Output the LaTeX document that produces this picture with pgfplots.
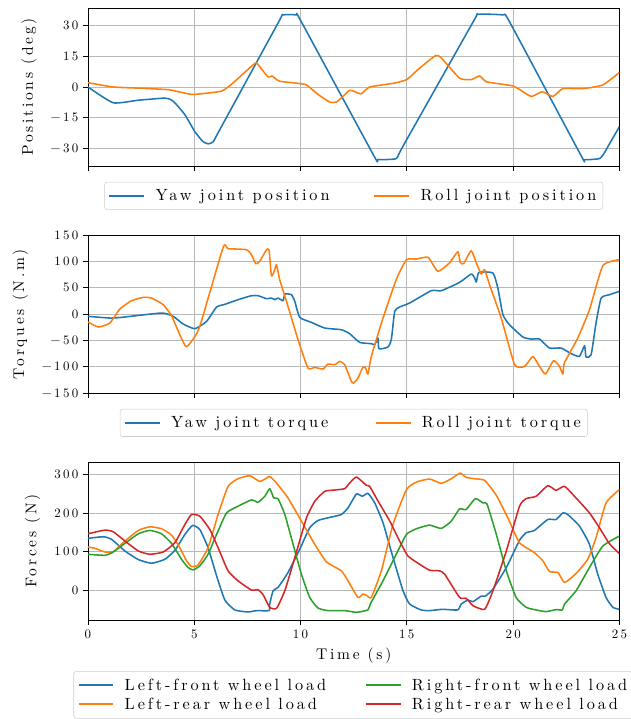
\documentclass[border=0pt]{standalone}
\usepackage{fontspec}
\setmainfont{lmroman10-regular.otf}[LetterSpace=18]
\usepackage{pgfplots}
\pgfplotsset{compat=1.18}

\definecolor{tabblue}{HTML}{1F77B4}
\definecolor{taborange}{HTML}{FF7F0E}
\definecolor{tabgreen}{HTML}{2CA02C}
\definecolor{tabred}{HTML}{D62728}

\newcommand{\rowstrut}{\rule{0pt}{9.2pt}\rule[-3pt]{0pt}{3pt}}

\pgfplotsset{
  panel/.style={
    scale only axis,
    width=412pt, height=122.5pt,
    xmin=0, xmax=25,
    xtick={0,5,10,15,20,25},
    grid=major,
    grid style={line width=0.6pt, color=black!28},
    axis line style={line width=0.6pt},
    tick align=outside, tick pos=left,
    major tick length=4pt,
    tick style={line width=0.6pt, black},
    tick label style={font=\normalsize},
    label style={font=\large},
    ylabel shift=4pt,
    legend cell align=left,
    legend style={at={(0.5,-0.1)}, anchor=north, legend columns=2,
      draw=black!20, rounded corners=2pt, font=\fontsize{12.6}{15}\selectfont,
      /tikz/every odd column/.append style={column sep=6pt},
      /tikz/every even column/.append style={column sep=25pt},
      inner xsep=3pt, inner ysep=3.5pt},
    legend image code/.code={\draw[##1, line width=1.5pt] (0pt,0pt) -- (27pt,0pt);},
    every axis plot/.append style={line width=1.2pt, line join=round, smooth, tension=0.3},
  }
}

\pgfplotstableread{
t v
0 0
1.19 -7.7
2.4 -6.4
3.62 -5.4
3.9 -6.2
4.09 -7.7
4.56 -13.5
5.03 -21.8
5.4 -26.5
5.65 -27.7
5.89 -26.7
6.2 -20.8
9.0 32.3
9.15 35.1
9.81 35.1
10.0 32.5
13.45 -33.5
13.64 -35.3
14.5 -34.9
14.8 -29.2
18.15 32.3
18.34 35.4
19.52 35.1
19.83 31.8
23.2 -33.5
23.36 -35.4
24.06 -34.9
24.3 -32
24.45 -29.2
25 -19.3
}\yawpos

\pgfplotstableread{
t v
0 2.1
1.19 0
2.5 -0.6
3.78 -1.3
4.25 -2.3
4.87 -3.6
5.34 -3.3
6.28 -2.0
6.75 1.3
7.85 11.5
8.0 10.9
8.47 4.9
8.66 5.4
8.79 4.3
9.02 2.8
9.88 1.8
10.28 1.0
10.82 -3.6
11.37 -7.3
11.69 -7.3
12.0 -4.5
12.31 -1.6
12.55 -2.3
12.86 -3.3
13.25 0
14.36 1.8
14.99 3.6
15.6 9.2
16.35 15.3
16.62 14.2
17.48 4.3
18.03 3.6
18.42 5.4
18.73 2.6
19.52 1.3
19.99 0.5
20.3 -1.2
20.85 -4.6
21.37 -2.3
21.87 -4.6
22.34 -0.8
23.28 -0.8
24.22 1.0
25.0 7.1
}\rollpos

\pgfplotstableread{
t v
0 -4.4
1.03 -7.6
1.58 -6.3
3.46 1.9
4.01 -4.4
4.48 -19
5.03 -27.9
5.58 -13.9
6.05 13.3
6.44 18.4
7.06 27.2
7.69 34.8
8.0 34.8
8.4 29.1
8.63 30.4
8.79 27.2
8.94 30.4
9.18 25.3
9.26 38
9.57 36.7
9.73 24
9.96 -6.3
10.51 -15.8
11.14 -26.6
11.92 -29.8
12.31 -37.3
12.78 -53.8
13.33 -56.3
13.49 -58.2
13.64 -45.6
13.69 -65.8
14.11 -62.7
14.27 -48.7
14.43 5
14.66 13.3
15.13 20.9
16.15 44.3
16.62 44.3
17.48 60.1
18.03 76
18.19 68.4
18.27 60.8
18.39 79
19.05 77.9
19.28 49.4
19.52 -1.3
19.83 -20.3
20.46 -43.7
20.85 -47.5
21.24 -47.5
21.71 -64.6
22.26 -64.6
22.73 -75.3
23.12 -80.4
23.36 -60.1
23.43 -81.7
23.67 -77.2
23.9 -17.1
24.14 30.4
24.53 36.7
25.0 43
}\yawtrq

\pgfplotstableread{
t v
0 -15.2
0.49 -24.7
1.03 -17.1
1.5 9.5
2.05 25.3
2.6 31.7
2.99 30.4
3.54 17.7
3.93 -3.2
4.32 -39.2
4.61 -62
4.87 -51.9
5.26 -23.4
6.36 126.6
6.59 124
7.45 122.2
7.69 112.7
7.89 95.6
8.08 100
8.4 122.2
8.52 121
8.63 72.8
8.76 81
8.87 93.7
9.02 65.2
9.41 14.6
9.88 -48.7
10.35 -102.5
10.67 -101.3
11.06 -104.4
11.29 -95
11.61 -96.2
11.84 -89.9
12.08 -96.2
12.39 -127.9
12.5 -131
12.7 -121.5
12.94 -100.6
13.06 -102.5
13.17 -114
13.33 -80.4
13.88 -7.6
14.5 65.2
14.98 103
15.45 104.4
16.0 107.6
16.46 81
17.0 96.8
17.4 118.4
17.51 98.1
17.67 95.6
18.03 120.3
18.27 96.8
18.5 76
18.66 84.2
18.89 55.7
19.44 -7.6
20.07 -96.2
20.54 -99.4
20.93 -80.4
21.24 -99.4
21.52 -114
21.9 -88.6
22.18 -99.4
22.34 -114
22.41 -93
23.04 -45.6
23.59 8.2
24.22 91.8
25 103.2
}\rolltrq

\pgfplotstableread{
t v
0 134.5
0.72 138.8
1.11 131.9
1.74 101.7
2.37 79.3
2.99 69.8
3.62 80.2
4.09 103.4
4.56 144.8
4.92 168.1
5.26 157.7
5.65 110.3
6.05 37
6.44 -25.9
6.91 -51.7
7.53 -56.9
7.93 -53.4
8.52 -53.4
8.55 -36.2
8.71 -1.7
8.94 6.9
9.41 45.7
9.96 106
10.43 162
10.82 181
11.29 188
11.92 196.5
12.23 213.8
12.63 250
12.91 244
13.17 251.7
13.49 226.7
13.88 175
14.35 84.5
14.82 -1.7
15.13 -36.2
15.67 -51.7
16.07 -53.4
16.69 -50
17.39 -51.7
17.56 -36.2
17.87 -25.9
18.11 -30.2
18.5 -15.5
18.7 -15.5
19.05 2.6
19.68 58.6
20.3 129.3
20.61 149.1
21.0 155.2
21.63 183.6
22.02 183.6
22.34 200.8
22.57 196.5
23.12 166.4
23.59 119
23.98 41.4
24.37 -19
24.69 -44.8
25.0 -50
}\lf

\pgfplotstableread{
t v
0 112
0.33 108.6
0.8 99.1
1.19 100
1.74 127.6
2.37 155.2
2.91 164.6
3.46 159.5
3.93 143
4.32 110.3
4.64 75.9
4.87 61.2
5.18 65.5
5.65 110.3
6.12 196.5
6.59 269.8
7.06 289.6
7.61 297.4
8.08 282.7
8.4 291.4
8.55 295.7
8.87 278.4
9.41 239.6
10.04 179.3
10.67 119
11.22 73.3
11.92 50
12.23 24.1
12.7 -19
12.94 -10.3
13.13 -14.7
13.33 -19
13.8 50
14.35 170.7
14.98 261.2
15.45 281
16.07 288.8
16.62 277.6
17.09 289.6
17.51 304.3
17.79 293.1
18.19 289.6
18.66 285.3
19.21 246.5
19.75 188
20.3 123.3
21.0 97.4
21.4 75.9
21.71 48.3
22.11 45.7
22.42 19.8
22.96 43.1
23.51 80.2
23.9 136.2
24.37 226.7
25.0 261.2
}\lr

\pgfplotstableread{
t v
0 93.1
0.8 90.5
1.19 99.1
1.74 121.5
2.37 146.5
2.91 155.2
3.46 146.5
3.93 121.5
4.4 80.2
4.71 58.6
4.95 52.6
5.26 62.9
5.65 93.1
6.05 144.8
6.52 200.8
7.06 218.1
7.69 234.5
8.0 228.4
8.32 244
8.55 263.8
8.74 239.6
8.94 237.9
9.26 196.5
9.65 119
10.04 41.4
10.43 -19
10.82 -46.5
11.29 -53.4
12.08 -53.4
12.63 -57.8
13.17 -51.7
13.28 -36.2
13.88 24.1
14.5 93.1
14.98 144.8
15.45 159.5
16.07 169
16.62 160.3
17.09 179.3
17.48 211.2
17.79 209.5
18.22 237.9
18.58 226.7
18.77 224.1
19.21 144.8
19.68 50
20.14 -19
20.61 -44.8
21.08 -51.7
21.55 -56
22.02 -50.9
22.31 -51.7
22.42 -36.2
22.96 -1.7
23.59 58.6
24.22 114.6
25.0 140.5
}\rf

\pgfplotstableread{
t v
0 146.5
0.8 156
1.19 151.7
1.74 127.6
2.37 101.7
2.91 93.1
3.54 99.1
4.09 123.3
4.56 170.7
4.87 196.5
5.26 192.2
5.73 157.7
6.12 110.3
6.59 50
7.06 24.1
7.69 0
8.0 0.9
8.24 -12.1
8.55 -44.8
8.87 -47.4
9.26 -1.7
9.73 84.5
10.28 188
10.67 231
11.14 256.9
11.61 260.3
12.08 263.8
12.31 278.4
12.63 294
13.1 272.4
13.25 269.8
13.65 231
14.2 179.3
14.66 127.6
15.05 88.8
15.6 67.2
16.07 51.7
16.54 50
16.78 41.4
17.48 -19
17.79 -21.6
18.11 -40.5
18.66 -50
19.05 -1.7
19.68 101.7
20.3 218.1
20.61 237.9
21.08 244
21.63 271.5
22.02 259.5
22.42 269.8
22.96 239.6
23.59 200.8
24.06 162
24.53 120.7
25.0 94.8
}\rr

\begin{document}
\begin{tikzpicture}
\begin{axis}[panel, at={(0,0)}, anchor=north west,
  ymin=-38.5, ymax=38.5,
  ytick={-30,-15,0,15,30}, yticklabels={−30,−15,0,15,30},
  xticklabels={},
  ylabel={Positions (deg)},
  legend style={/tikz/every even column/.append style={column sep=32pt}}]
\addplot[tabblue] table[x=t,y=v] {\yawpos};
\addlegendentry{Yaw joint position}
\addplot[taborange] table[x=t,y=v] {\rollpos};
\addlegendentry{Roll joint position}
\end{axis}

\begin{axis}[panel, at={(0,-176pt)}, anchor=north west,
  ymin=-150, ymax=150,
  ytick={-150,-100,-50,0,50,100,150}, yticklabels={−150,−100,−50,0,50,100,150},
  xticklabels={},
  ylabel={Torques (N.m)},
  legend style={/tikz/every even column/.append style={column sep=34pt}}]
\addplot[tabblue] table[x=t,y=v] {\yawtrq};
\addlegendentry{Yaw joint torque}
\addplot[taborange] table[x=t,y=v] {\rolltrq};
\addlegendentry{Roll joint torque}
\end{axis}

\begin{axis}[panel, at={(0,-352pt)}, anchor=north west,
  ymin=-78, ymax=333,
  ytick={0,100,200,300}, yticklabels={0,100,200,300},
  xticklabels={0,5,10,15,20,25},
  xlabel={Time (s)}, ylabel={Forces (N)},
  transpose legend,
  legend style={at={(0.5,-0.323)},
    /tikz/every even column/.append style={column sep=28pt}}]
\addplot[tabblue] table[x=t,y=v] {\lf};
\addlegendentry{\rowstrut Left-front wheel load}
\addplot[taborange] table[x=t,y=v] {\lr};
\addlegendentry{\rowstrut Left-rear wheel load}
\addplot[tabgreen] table[x=t,y=v] {\rf};
\addlegendentry{\rowstrut Right-front wheel load}
\addplot[tabred] table[x=t,y=v] {\rr};
\addlegendentry{\rowstrut Right-rear wheel load}
\end{axis}
\pgfresetboundingbox
\path (-68.2pt,6.2pt) rectangle (420.9pt,-551.2pt);
\end{tikzpicture}
\end{document}
